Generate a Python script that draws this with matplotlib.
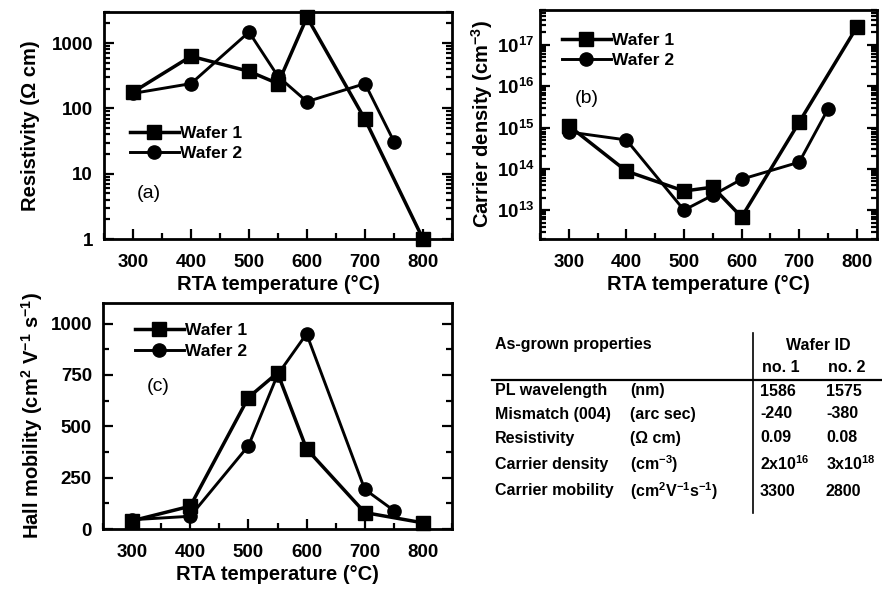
import matplotlib
matplotlib.use("Agg")
import math
import matplotlib.pyplot as plt
from matplotlib.ticker import FixedLocator, NullFormatter, FuncFormatter, MultipleLocator, LogLocator

plt.rcParams['font.family'] = ['Liberation Sans', 'DejaVu Sans']
plt.rcParams['font.weight'] = 'bold'
plt.rcParams['axes.labelweight'] = 'bold'
plt.rcParams['mathtext.fontset'] = 'custom'
plt.rcParams['mathtext.rm'] = 'Liberation Sans:bold'
plt.rcParams['mathtext.it'] = 'Liberation Sans:bold'
plt.rcParams['mathtext.bf'] = 'Liberation Sans:bold'

# --- data ---
temp_w1 = [300, 400, 500, 550, 600, 700, 800]
temp_w2 = [300, 400, 500, 550, 600, 700, 750]

res_w1 = [178, 630, 370, 240, 2500, 68, 1]
res_w2 = [170, 240, 1480, 310, 127, 240, 31]

dens_w1 = [1.1e15, 8.8e13, 2.9e13, 3.6e13, 6.8e12, 1.35e15, 2.7e17]
dens_w2 = [7.8e14, 5e14, 1e13, 2.3e13, 5.6e13, 1.45e14, 2.8e15]

mob_w1 = [40, 111, 640, 760, 390, 80, 30]
mob_w2 = [45, 62, 405, 750, 950, 193, 90]

xticks = [300, 400, 500, 600, 700, 800]

props = ['PL wavelength', 'Mismatch (004)', 'Resistivity', 'Carrier density', 'Carrier mobility']
units = ['(nm)', '(arc sec)', '(\u03a9 cm)', '(cm$^{-3}$)', '(cm$^{2}$V$^{-1}$s$^{-1}$)']
no1 = ['1586', '-240', '0.09', '2x10$^{16}$', '3300']
no2 = ['1575', '-380', '0.08', '3x10$^{18}$', '2800']

W, H = 882, 596
fig = plt.figure(figsize=(W / 100, H / 100), dpi=100)


def px_axes(l, t, r, b):
    return fig.add_axes([l / W, 1 - b / H, (r - l) / W, (b - t) / H])


def style(ax, xlim):
    ax.set_xlim(*xlim)
    ax.xaxis.set_major_locator(FixedLocator(xticks))
    ax.xaxis.set_minor_locator(MultipleLocator(50))
    ax.tick_params(which='both', direction='in', top=False, right=True, width=1.6)
    ax.tick_params(which='major', length=7, labelsize=13.5, pad=8)
    ax.tick_params(axis='x', which='major', pad=11)
    ax.tick_params(which='minor', length=4)
    for s in ax.spines.values():
        s.set_linewidth(2)
    ax.set_xlabel('RTA temperature (\u00b0C)', fontsize=14.5, labelpad=3)


def plot_pair(ax, y1, y2):
    ax.plot(temp_w1, y1, color='black', lw=2.5, marker='s', ms=9.5, clip_on=False, label='Wafer 1', zorder=3)
    ax.plot(temp_w2, y2, color='black', lw=2.1, marker='o', ms=9.5, clip_on=False, label='Wafer 2', zorder=3)


def legend(ax, x, y):
    ax.legend(loc='upper left', bbox_to_anchor=(x, y), frameon=False, fontsize=12.5, handlelength=2.8,
              handletextpad=0.1, borderpad=0, borderaxespad=0, labelspacing=0.3)


# (a) resistivity
ax1 = px_axes(104, 12, 452, 239)
plot_pair(ax1, res_w1, res_w2)
ax1.set_yscale('log')
ax1.set_ylim(1, 3000)
ax1.yaxis.set_major_locator(FixedLocator([1, 10, 100, 1000]))
ax1.yaxis.set_major_formatter(FuncFormatter(lambda v, p: '%d' % round(v)))
ax1.yaxis.set_minor_locator(LogLocator(base=10, subs=range(2, 10)))
ax1.yaxis.set_minor_formatter(NullFormatter())
style(ax1, (250, 850))
ax1.set_ylabel('Resistivity (\u03a9 cm)', fontsize=14.5, labelpad=8)
legend(ax1, 0.075, 0.50)
ax1.text(0.13, 0.2, '(a)', transform=ax1.transAxes, fontsize=14, fontweight='normal', ha='center', va='center')

# (b) carrier density
ax2 = px_axes(540, 10, 877, 239)
plot_pair(ax2, dens_w1, dens_w2)
ax2.set_yscale('log')
ax2.set_ylim(2e12, 7e17)
ax2.yaxis.set_major_locator(FixedLocator([1e13, 1e14, 1e15, 1e16, 1e17]))
ax2.yaxis.set_major_formatter(FuncFormatter(lambda v, p: '10$^{%d}$' % round(math.log10(v))))
ax2.yaxis.set_minor_locator(LogLocator(base=10, subs=range(2, 10)))
ax2.yaxis.set_minor_formatter(NullFormatter())
style(ax2, (250, 835))
ax2.tick_params(axis='y', which='major', pad=4)
ax2.set_ylabel('Carrier density (cm$^{-3}$)', fontsize=14.5, labelpad=1)
legend(ax2, 0.065, 0.90)
ax2.text(0.14, 0.615, '(b)', transform=ax2.transAxes, fontsize=14, fontweight='normal', ha='center', va='center')

# (c) hall mobility
ax3 = px_axes(103, 303, 452, 529)
plot_pair(ax3, mob_w1, mob_w2)
ax3.set_ylim(0, 1100)
ax3.yaxis.set_major_locator(FixedLocator([0, 250, 500, 750, 1000]))
ax3.yaxis.set_minor_locator(MultipleLocator(125))
style(ax3, (250, 850))
ax3.set_ylabel('Hall mobility (cm$^{2}$ V$^{-1}$ s$^{-1}$)', fontsize=14.5, labelpad=4)
legend(ax3, 0.092, 0.91)
ax3.text(0.158, 0.63, '(c)', transform=ax3.transAxes, fontsize=14, fontweight='normal', ha='center', va='center')


# table of as-grown properties
def fx(x):
    return x / W


def fy(y):
    return 1 - y / H


tfs = 11.5
fig.text(fx(495), fy(345), 'As-grown properties', fontsize=tfs, va='center', ha='left')
fig.text(fx(818), fy(345), 'Wafer ID', fontsize=tfs, va='center', ha='center')
fig.text(fx(762), fy(368), 'no. 1', fontsize=tfs, va='center', ha='left')
fig.text(fx(828), fy(368), 'no. 2', fontsize=tfs, va='center', ha='left')
fig.add_artist(plt.Line2D([fx(492), fx(882)], [fy(380), fy(380)], color='black', lw=1.6))
fig.add_artist(plt.Line2D([fx(753), fx(753)], [fy(333), fy(513)], color='black', lw=1.2))
row_y = [391, 414, 438, 464, 491]
for i in range(len(props)):
    fig.text(fx(495), fy(row_y[i]), props[i], fontsize=tfs, va='center', ha='left')
    fig.text(fx(630), fy(row_y[i]), units[i], fontsize=tfs, va='center', ha='left')
    fig.text(fx(760), fy(row_y[i]), no1[i], fontsize=tfs, va='center', ha='left')
    fig.text(fx(826), fy(row_y[i]), no2[i], fontsize=tfs, va='center', ha='left')

fig.savefig('out.png', dpi=100)
